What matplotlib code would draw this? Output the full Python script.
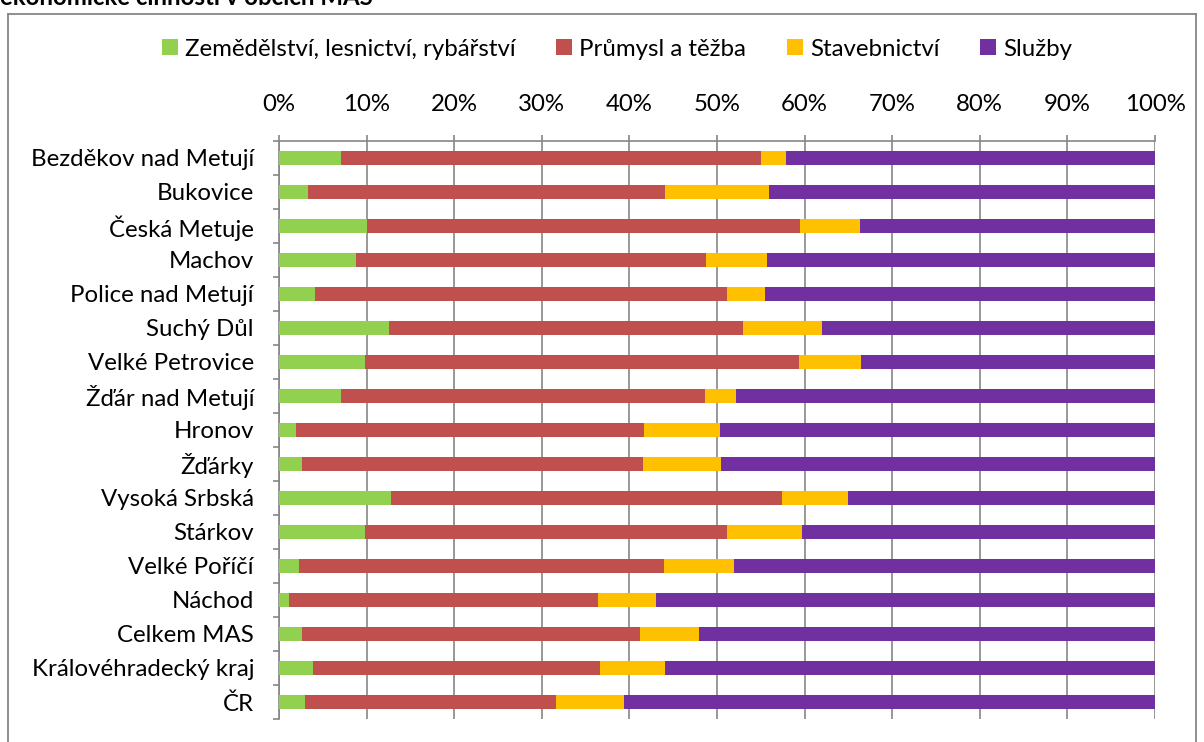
import matplotlib
matplotlib.use("Agg")
import matplotlib.pyplot as plt
from matplotlib.patches import Patch
from matplotlib.lines import Line2D
from matplotlib.ticker import FixedLocator, FuncFormatter

categories = ["Bezděkov nad Metují", "Bukovice", "Česká Metuje", "Machov",
              "Police nad Metují", "Suchý Důl", "Velké Petrovice", "Žďár nad Metují",
              "Hronov", "Žďárky", "Vysoká Srbská", "Stárkov", "Velké Poříčí",
              "Náchod", "Celkem MAS", "Královéhradecký kraj", "ČR"]

series_names = ["Zemědělství, lesnictví, rybářství", "Průmysl a těžba",
                "Stavebnictví", "Služby"]

zemedelstvi = [7.1, 3.3, 10.1, 8.8, 4.1, 12.6, 9.8, 7.1, 1.9, 2.6, 12.8, 9.8, 2.3, 1.1, 2.6, 3.9, 3.0]
prumysl     = [47.9, 40.8, 49.4, 39.9, 47.0, 40.4, 49.6, 41.5, 39.8, 38.9, 44.6, 41.3, 41.7, 35.3, 38.6, 32.8, 28.6]
stavebnictvi = [2.9, 11.8, 6.8, 7.0, 4.4, 9.0, 7.0, 3.6, 8.6, 8.9, 7.5, 8.6, 7.9, 6.6, 6.7, 7.4, 7.8]
sluzby      = [42.1, 44.1, 33.7, 44.3, 44.5, 38.0, 33.6, 47.8, 49.7, 49.6, 35.1, 40.3, 48.1, 57.0, 52.1, 55.9, 60.6]

x_ticks = [0, 10, 20, 30, 40, 50, 60, 70, 80, 90, 100]
colors = ["#92D050", "#C0504D", "#FFC000", "#7030A0"]
title_text = "ekonomické činnosti v obcích MAS"

FONT = ["Lato", "DejaVu Sans"]
plt.rcParams['font.family'] = FONT
FS = 17.3
GRAY = "#868686"

W, H = 1204, 742
fig = plt.figure(figsize=(W / 100, H / 100), dpi=100)
fig.patch.set_facecolor("white")

# outer chart frame
for xs, ys in [([8, 8], [742, 14]), ([8, 1196], [14, 14]), ([1196, 1196], [14, 742])]:
    fig.add_artist(Line2D([x / W for x in xs], [1 - y / H for y in ys],
                          transform=fig.transFigure, color=GRAY, lw=1.3))

# partially visible title at the very top (as in the reference)
fig.text(0 / W, 1 - 5 / H, title_text, fontsize=FS, fontweight="bold",
         ha="left", va="baseline", color="black")

ax = fig.add_axes([279 / W, 1 - 719 / H, (1155 - 279) / W, (719 - 141) / H])
ypos = list(range(len(categories)))
series = [zemedelstvi, prumysl, stavebnictvi, sluzby]
left = [0.0] * len(categories)
for vals, col, name in zip(series, colors, series_names):
    ax.barh(ypos, vals, left=left, height=0.41, color=col, label=name, zorder=3)
    left = [a + b for a, b in zip(left, vals)]

ax.set_xlim(0, 100)
ax.set_ylim(len(categories) - 0.5, -0.5)

ax.xaxis.tick_top()
ax.xaxis.set_major_locator(FixedLocator(x_ticks))
ax.xaxis.set_major_formatter(FuncFormatter(lambda v, p: f"{int(v)}%"))
ax.tick_params(axis="x", which="major", length=4.5, width=1.2, color=GRAY,
               labelsize=FS, pad=14)
ax.grid(axis="x", color=GRAY, lw=1.2, zorder=0)

ax.set_yticks(ypos)
ax.set_yticklabels(categories)
ax.tick_params(axis="y", which="major", length=0, labelsize=FS, pad=18)
ax.set_yticks([i - 0.5 for i in range(len(categories) + 1)], minor=True)
ax.tick_params(axis="y", which="minor", length=4, width=1.2, color=GRAY)

for s in ["bottom", "right"]:
    ax.spines[s].set_visible(False)
for s in ["top", "left"]:
    ax.spines[s].set_color(GRAY)
    ax.spines[s].set_linewidth(1.2)

handles = [Patch(facecolor=c, edgecolor="none") for c in colors]
fig.legend(handles, series_names, loc="center", bbox_to_anchor=(617 / W, 1 - 49 / H),
           ncol=4, frameon=False, fontsize=FS, handlelength=0.65, handleheight=0.65,
           handletextpad=0.3, columnspacing=1.7)

fig.savefig("out.png", dpi=100, facecolor="white")
